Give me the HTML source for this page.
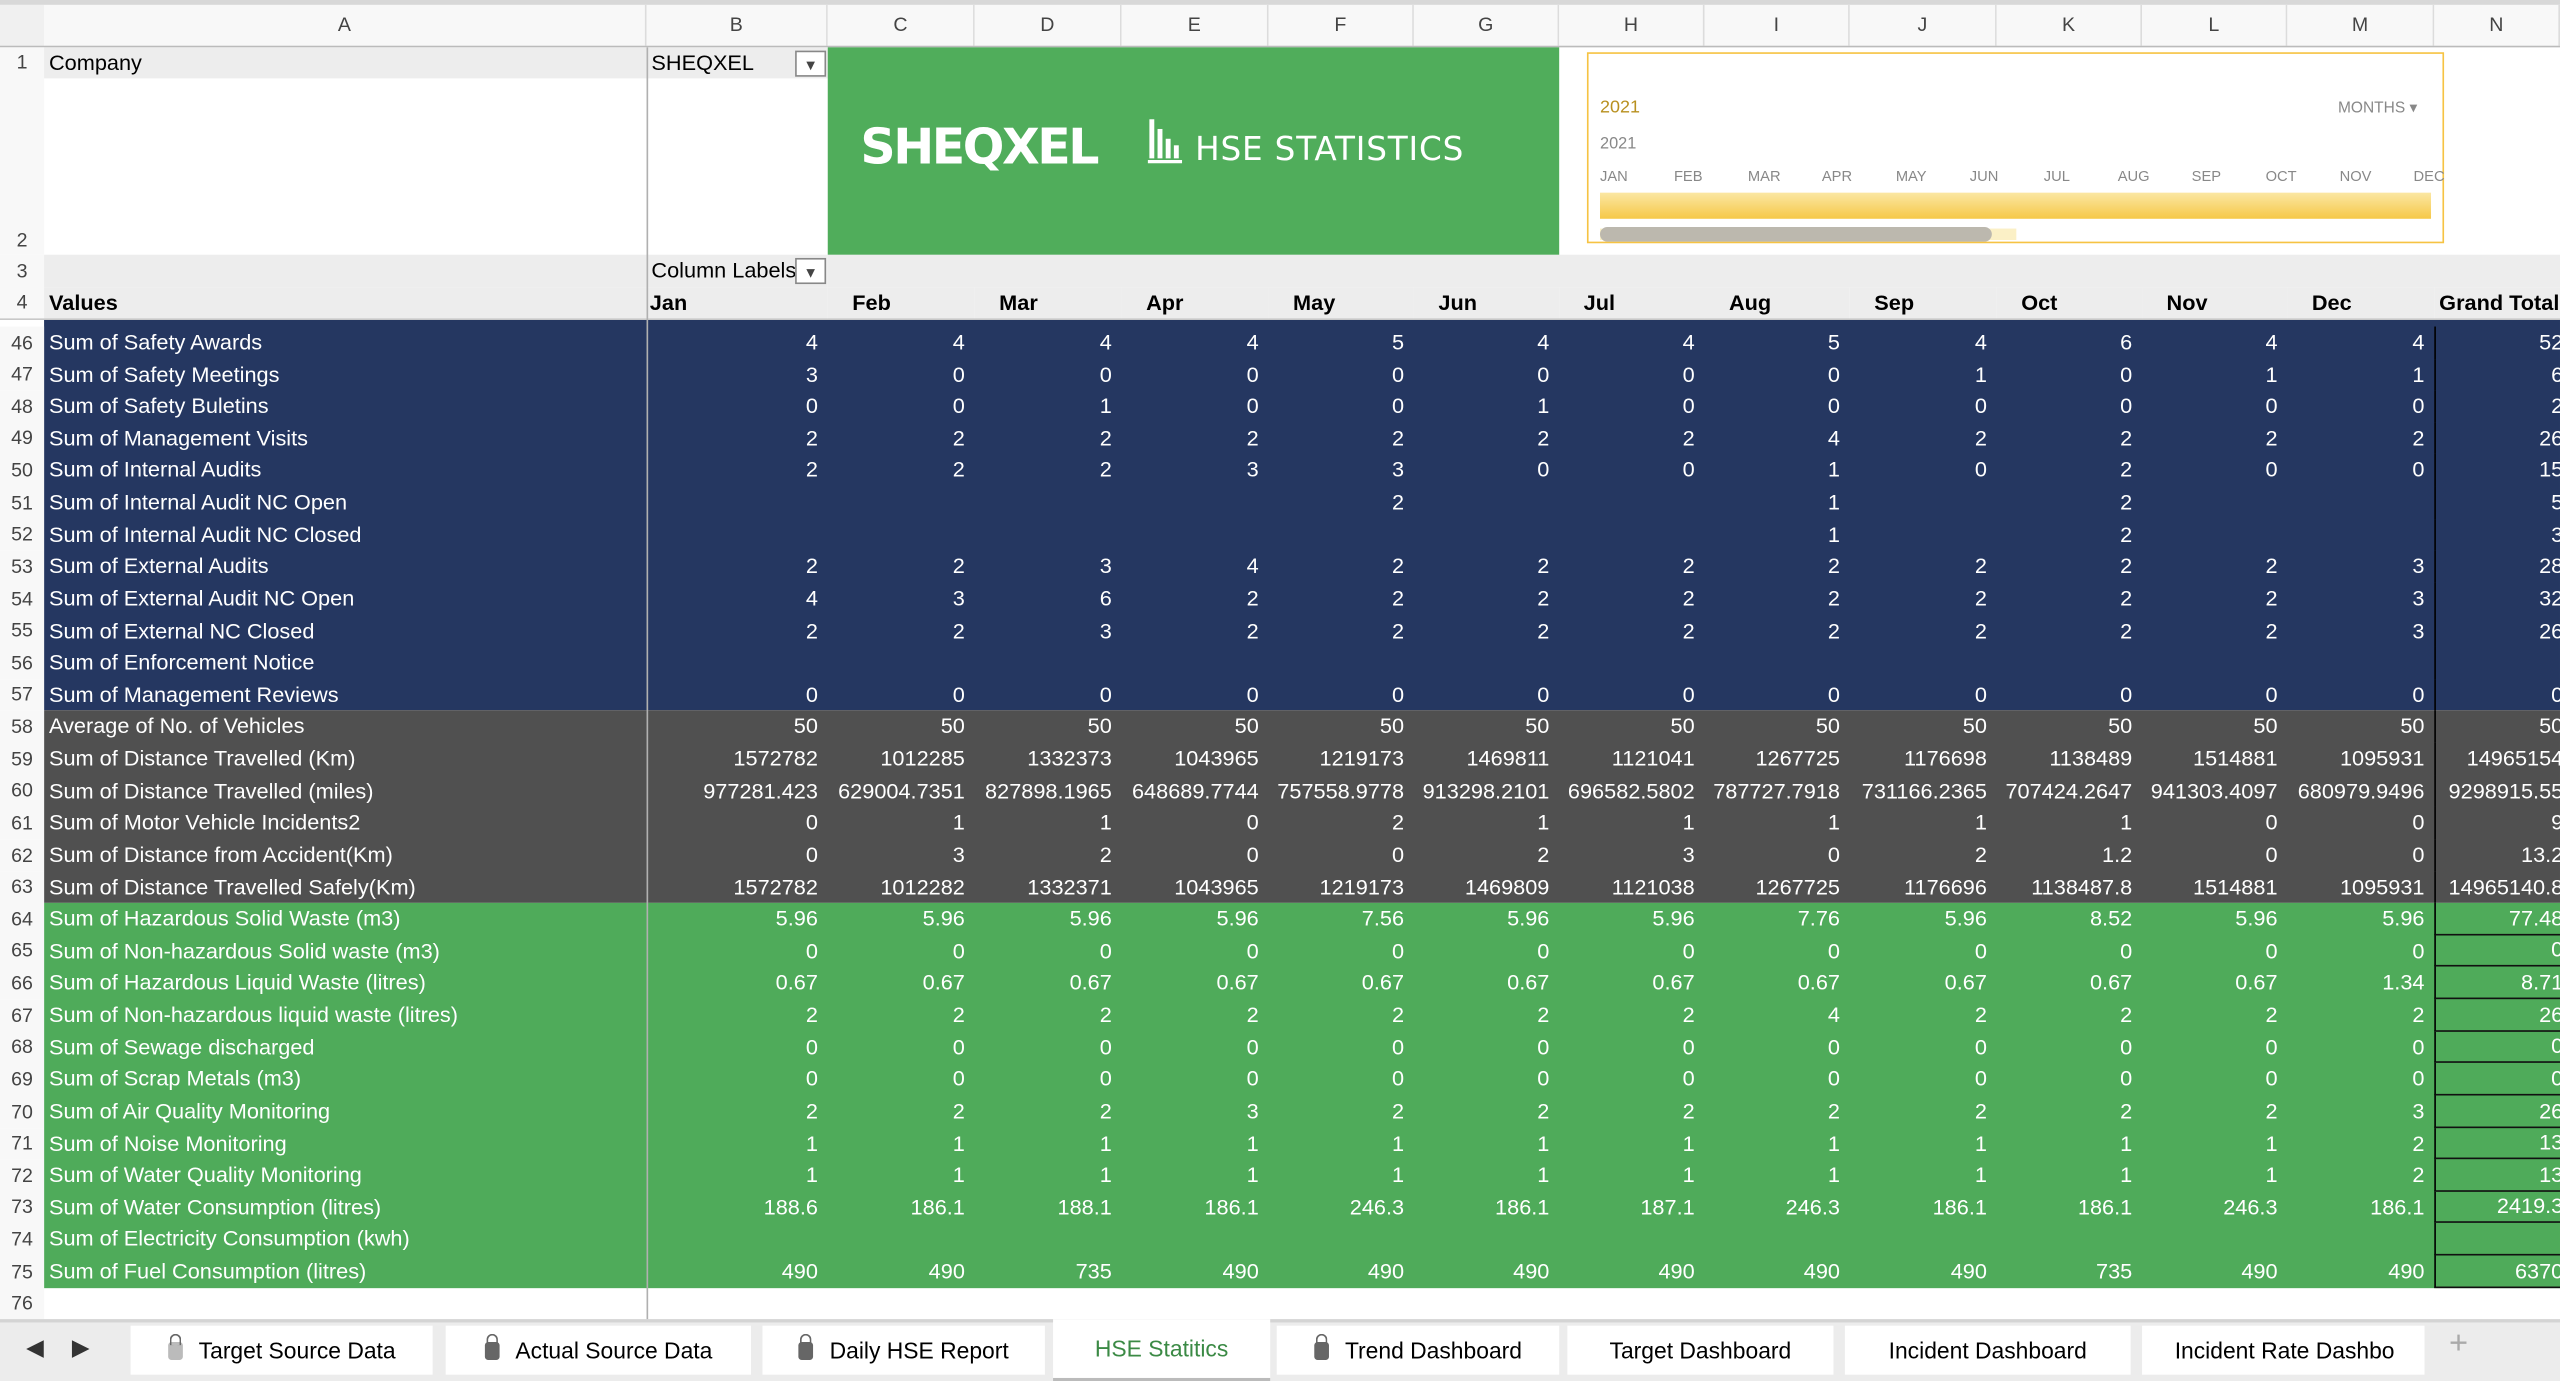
<!DOCTYPE html>
<html><head><meta charset="utf-8">
<style>
html,body{margin:0;padding:0;width:2560px;height:1380px;overflow:hidden;background:#fff}
#wrap{position:absolute;left:0;top:0;width:1568px;height:846px;transform:scale(1.63265);transform-origin:0 0;font-family:"Liberation Sans",sans-serif;font-size:13.3px;color:#000;overflow:hidden}
.abs{position:absolute;box-sizing:border-box}
.colh{position:absolute;top:3px;height:25px;line-height:25px;text-align:center;color:#444;font-size:12px;border-right:1px solid #dcdcdc;background:#f8f8f8;box-sizing:border-box}
.rn{position:absolute;left:0;width:27px;text-align:center;color:#444;font-size:12px;background:#f8f8f8;box-sizing:border-box}
.cell{position:absolute;white-space:nowrap;overflow:hidden;box-sizing:border-box;padding:0 6px 0 3px}
.num{text-align:right}
.tab{position:absolute;top:812px;height:30px;line-height:30px;background:#fff;font-size:14px;text-align:center;white-space:nowrap;overflow:hidden}
.lock{display:inline-block;width:9px;height:11px;background:#666;border-radius:2px;margin-right:10px;vertical-align:-1px;position:relative}
.lock:before{content:"";position:absolute;left:1px;top:-5px;width:5px;height:6px;border:1.5px solid #666;border-bottom:none;border-radius:4px 4px 0 0}
</style></head><body>
<div id="wrap">
 <div class="abs" style="left:0;top:0;width:1568px;height:3px;background:#d8d8d8"></div>
 <div class="abs" style="left:0;top:3px;width:27px;height:25px;background:#f0f0f0"></div>
 <div id="colheads"></div>
 <div class="abs" style="left:0;top:28px;width:1568px;height:1px;background:#bbb"></div>
 <div id="grid"></div>

 <div class="abs" style="left:507px;top:29px;width:448px;height:127px;background:#50ad5b">
  <div class="abs" style="left:20px;top:44px;color:#fff;font-size:30px;font-weight:bold;font-family:'DejaVu Sans',sans-serif;letter-spacing:-1.5px">SHEQXEL</div>
  <svg class="abs" style="left:196px;top:44px" width="22" height="28"><g fill="#fff"><rect x="1" y="0" width="3" height="24"/><rect x="6" y="6" width="3" height="18"/><rect x="11" y="12" width="3" height="12"/><rect x="16" y="16" width="3" height="8"/><rect x="0" y="25" width="21" height="2"/></g></svg>
  <div class="abs" style="left:225px;top:50px;color:#fff;font-size:20px;letter-spacing:0.5px;font-family:'DejaVu Sans',sans-serif">HSE STATISTICS</div>
 </div>

 <div class="abs" style="left:972px;top:32px;width:525px;height:117px;border:1.5px solid #f6c343;background:#fff">
  <div class="abs" style="left:7px;top:27px;color:#b8901f;font-size:11px">2021</div>
  <div class="abs" style="left:459px;top:28px;color:#888;font-size:9.5px">MONTHS ▾</div>
  <div class="abs" style="left:7px;top:50px;color:#888;font-size:10px">2021</div>
  <div id="months"></div>
  <div class="abs" style="left:7px;top:85px;width:509px;height:16px;background:linear-gradient(#fbe7a3,#f6c848)"></div>
  <div class="abs" style="left:7px;top:107px;width:255px;height:7px;background:#fbf0c6"></div>
  <div class="abs" style="left:7px;top:106px;width:240px;height:9px;background:#bcb8ae;border-radius:5px"></div>
 </div>

 <div class="abs" style="left:0;top:808px;width:1568px;height:38px;background:#ececec;border-top:2px solid #d4d4d4"></div>
 <div class="abs" style="left:16px;top:817px;font-size:14px;color:#333">◀</div>
 <div class="abs" style="left:44px;top:817px;font-size:14px;color:#333">▶</div>
 <div class="tab" style="left:80px;width:185px"><span class="lock" style="background:#bbb"></span>Target Source Data</div>
 <div class="tab" style="left:273px;width:187px"><span class="lock"></span>Actual Source Data</div>
 <div class="tab" style="left:467px;width:173px"><span class="lock"></span>Daily HSE Report</div>
 <div class="tab" style="left:645px;width:133px;top:808px;height:36px;line-height:36px;color:#3b8a45;border-bottom:2px solid #bbb">HSE Statitics</div>
 <div class="tab" style="left:782px;width:173px"><span class="lock"></span>Trend Dashboard</div>
 <div class="tab" style="left:960px;width:163px">Target Dashboard</div>
 <div class="tab" style="left:1130px;width:175px">Incident Dashboard</div>
 <div class="tab" style="left:1312px;width:173px;text-align:left;padding-left:20px;box-sizing:border-box">Incident Rate Dashbo</div>
 <div class="abs" style="left:1500px;top:812px;font-size:20px;color:#aaa">+</div>
</div>
<script>
const colLetters=["A","B","C","D","E","F","G","H","I","J","K","L","M","N"];
const monthHeaders=["Jan","Feb","Mar","Apr","May","Jun","Jul","Aug","Sep","Oct","Nov","Dec","Grand Total"];
const rowNums=[46,47,48,49,50,51,52,53,54,55,56,57,58,59,60,61,62,63,64,65,66,67,68,69,70,71,72,73,74,75];
const rowLabels=["Sum of Safety Awards","Sum of Safety Meetings","Sum of Safety Buletins","Sum of Management Visits","Sum of Internal Audits","Sum of Internal Audit NC Open","Sum of Internal Audit NC Closed","Sum of External Audits","Sum of External Audit NC Open","Sum of External NC Closed","Sum of Enforcement Notice","Sum of Management Reviews","Average of No. of Vehicles","Sum of Distance Travelled (Km)","Sum of Distance Travelled (miles)","Sum of Motor Vehicle Incidents2","Sum of Distance from Accident(Km)","Sum of Distance Travelled Safely(Km)","Sum of Hazardous Solid Waste (m3)","Sum of Non-hazardous Solid waste (m3)","Sum of Hazardous Liquid Waste (litres)","Sum of Non-hazardous liquid waste (litres)","Sum of Sewage discharged","Sum of Scrap Metals (m3)","Sum of Air Quality Monitoring","Sum of Noise Monitoring","Sum of Water Quality Monitoring","Sum of Water Consumption (litres)","Sum of Electricity Consumption (kwh)","Sum of Fuel Consumption (litres)"];
const rowGroups=["n","n","n","n","n","n","n","n","n","n","n","n","g","g","g","g","g","g","e","e","e","e","e","e","e","e","e","e","e","e"];
const rowValues=[
["4","4","4","4","5","4","4","5","4","6","4","4","52"],
["3","0","0","0","0","0","0","0","1","0","1","1","6"],
["0","0","1","0","0","1","0","0","0","0","0","0","2"],
["2","2","2","2","2","2","2","4","2","2","2","2","26"],
["2","2","2","3","3","0","0","1","0","2","0","0","15"],
["","","","","2","","","1","","2","","","5"],
["","","","","","","","1","","2","","","3"],
["2","2","3","4","2","2","2","2","2","2","2","3","28"],
["4","3","6","2","2","2","2","2","2","2","2","3","32"],
["2","2","3","2","2","2","2","2","2","2","2","3","26"],
["","","","","","","","","","","","",""],
["0","0","0","0","0","0","0","0","0","0","0","0","0"],
["50","50","50","50","50","50","50","50","50","50","50","50","50"],
["1572782","1012285","1332373","1043965","1219173","1469811","1121041","1267725","1176698","1138489","1514881","1095931","14965154"],
["977281.423","629004.7351","827898.1965","648689.7744","757558.9778","913298.2101","696582.5802","787727.7918","731166.2365","707424.2647","941303.4097","680979.9496","9298915.55"],
["0","1","1","0","2","1","1","1","1","1","0","0","9"],
["0","3","2","0","0","2","3","0","2","1.2","0","0","13.2"],
["1572782","1012282","1332371","1043965","1219173","1469809","1121038","1267725","1176696","1138487.8","1514881","1095931","14965140.8"],
["5.96","5.96","5.96","5.96","7.56","5.96","5.96","7.76","5.96","8.52","5.96","5.96","77.48"],
["0","0","0","0","0","0","0","0","0","0","0","0","0"],
["0.67","0.67","0.67","0.67","0.67","0.67","0.67","0.67","0.67","0.67","0.67","1.34","8.71"],
["2","2","2","2","2","2","2","4","2","2","2","2","26"],
["0","0","0","0","0","0","0","0","0","0","0","0","0"],
["0","0","0","0","0","0","0","0","0","0","0","0","0"],
["2","2","2","3","2","2","2","2","2","2","2","3","26"],
["1","1","1","1","1","1","1","1","1","1","1","2","13"],
["1","1","1","1","1","1","1","1","1","1","1","2","13"],
["188.6","186.1","188.1","186.1","246.3","186.1","187.1","246.3","186.1","186.1","246.3","186.1","2419.3"],
["","","","","","","","","","","","",""],
["490","490","735","490","490","490","490","490","490","735","490","490","6370"]];
const slicerMonths=["JAN","FEB","MAR","APR","MAY","JUN","JUL","AUG","SEP","OCT","NOV","DEC"];
const colX=[27,396,507,597,687,777,866,955,1044,1133,1223,1312,1401,1491,1572];
const groupColor={n:"#253761",g:"#505050",e:"#4fab5a"};
const ch=document.getElementById('colheads'), g=document.getElementById('grid');
colLetters.forEach((c,i)=>{const d=document.createElement('div');d.className='colh';


d.style.left=colX[i]+'px';d.style.width=((i==13?1568:colX[i+1])-colX[i])+'px';d.textContent=c;ch.appendChild(d);});
function add(cls,x,y,w,h,txt,bg,col,name,inter){const d=document.createElement('div');d.className=cls;d.style.left=x+'px';d.style.top=y+'px';d.style.width=w+'px';d.style.height=h+'px';d.style.lineHeight=h+'px';if(bg)d.style.background=bg;if(col)d.style.color=col;d.textContent=txt;


g.appendChild(d);return d;}
const hdr=[[1,29,19],[2,48,108],[3,156,20],[4,176,19]];
hdr.forEach(r=>{const d=add('rn',0,r[1],27,r[2],String(r[0]),null,null,'row-number-'+r[0],true);if(r[0]==2){d.style.lineHeight='';d.style.paddingTop=(r[2]-16)+'px';}});
add('cell',27,29,369,19,'Company','#ededed',null,'company-label',false);
add('cell',396,29,111,19,'SHEQXEL','#ededed',null,'company-filter',true);
add('cell',27,156,369,20,'','#ededed',null,'row3-blank',false);
add('cell',396,156,111,20,'Column Labels','#ededed',null,'column-labels-filter',true);
add('cell',507,156,1061,20,'','#ededed',null,'row3-fill',false);
add('cell',27,176,369,19,'Values','#ededed',null,'values-header',false).style.fontWeight='bold';
monthHeaders.forEach((m,i)=>{const x=colX[i+1],w=colX[i+2]-colX[i+1];const d=add('cell',x,176,w,19,m,'#ededed',null,'month-header-'+m.toLowerCase().replace(' ','-'),false);d.style.fontWeight='bold';d.style.paddingLeft='2px';if(i>0){d.style.paddingLeft='15px';}if(i==12){d.style.paddingLeft='3px';}});
[[487,31],[487,158]].forEach((p,k)=>{const d=add('cell',p[0],p[1],19,16,'▼',"#fff",'#444',k?'column-labels-filter-button':'company-filter-button',true);d.style.border='1px solid #888';d.style.fontSize='9px';d.style.padding='0';d.style.textAlign='center';});
const hd=add('cell',0,195,1568,1,'','#c8c8c8',null,'header-divider',false);hd.style.padding='0';
const rowH=19.62, y0=200;
// group background blocks
const blocks=[["n",0,12],["g",12,18],["e",18,30]];
blocks.forEach(b=>{const yt=Math.round(y0+b[1]*rowH), yb=Math.round(y0+b[2]*rowH);
 const d=add('cell',27,b[0]=="n"?196:yt,1545,yb-(b[0]=="n"?196:yt),'',groupColor[b[0]],null,'group-block-'+b[0],false);d.style.padding='0';});
rowNums.forEach((rn,r)=>{const yt=Math.round(y0+r*rowH), yb=Math.round(y0+(r+1)*rowH), h=yb-yt;
 add('rn',0,yt,27,h,String(rn),null,null,'row-number-'+rn,true);
 add('cell',27,yt,369,h,rowLabels[r],null,'#fff','row-label-'+rn,false);
 rowValues[r].forEach((v,c)=>{const x=colX[c+1],w=colX[c+2]-colX[c+1];const d=add('cell num',x,yt,w,h,v,null,'#fff','value-r'+rn+'-c'+(c+1),true);
  if(c==12){d.style.borderLeft='1.5px solid #000';d.style.paddingRight='2px';if(rowGroups[r]=='e'){d.style.borderBottom='1.5px solid #111';d.style.lineHeight=(h-1)+'px';}}});
});
const yEnd=Math.round(y0+rowNums.length*rowH);
add('rn',0,yEnd,27,19,'76',null,null,'row-number-76',true);
const dv=add('cell',396,29,1,780,'','#b0b0b0',null,'col-a-divider',false);dv.style.padding='0';
const mo=document.getElementById('months');
slicerMonths.forEach((m,i)=>{const d=document.createElement('div');d.className='abs';d.style.left=(7+i*45.3)+'px';d.style.top='70px';d.style.fontSize='9px';d.style.color='#888';d.textContent=m;


mo.appendChild(d);});
</script>
</body></html>
